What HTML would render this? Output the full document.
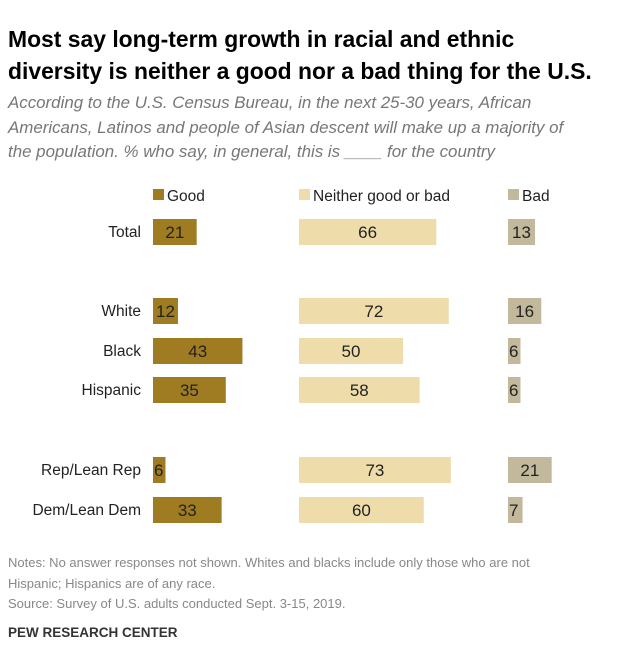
<!DOCTYPE html>
<html><head><meta charset="utf-8"><style>
body{margin:0;background:#fff;font-family:"Liberation Sans",sans-serif;}
#wrap{position:relative;width:639px;height:671px;overflow:hidden;}
.t{position:absolute;white-space:nowrap;}
</style></head><body>
<div id="wrap">
<div class="t" style="left:8px;top:23px;font-size:22.9px;font-weight:bold;line-height:32px;color:#000;">Most say long-term growth in racial and ethnic<br>diversity is neither a good nor a bad thing for the U.S.</div>
<div class="t" style="left:8px;top:91px;font-size:16.9px;font-style:italic;line-height:24.5px;color:#777;">According to the U.S. Census Bureau, in the next 25-30 years, African<br>Americans, Latinos and people of Asian descent will make up a majority of<br>the population. % who say, in general, this is ____ for the country</div>
<svg id="chart" width="639" height="671" style="position:absolute;left:0;top:0"></svg>
<div class="t" style="left:8px;top:553px;font-size:13px;line-height:20.5px;color:#888;">Notes: No answer responses not shown. Whites and blacks include only those who are not<br>Hispanic; Hispanics are of any race.<br>Source: Survey of U.S. adults conducted Sept. 3-15, 2019.</div>
<div class="t" style="left:8px;top:625px;font-size:13.5px;font-weight:bold;color:#333;">PEW RESEARCH CENTER</div>
</div>
<script>
const categories=["Total","White","Black","Hispanic","Rep/Lean Rep","Dem/Lean Dem"];
const goodValues=[21,12,43,35,6,33];
const neitherValues=[66,72,50,58,73,60];
const badValues=[13,16,6,6,21,7];
const seriesNames=["Good","Neither good or bad","Bad"];
const rowY=[232,311,351,390,470,510];
const NS="http://www.w3.org/2000/svg";
const svg=document.getElementById('chart');
const colors=["#9f7c22","#eeddaa","#c2b89b"];
const starts=[153,299,508];
const scale=2.08;
const x=(s,v)=>starts[s]+v*scale;
function mk(tag,attrs){const e=document.createElementNS(NS,tag);for(const k in attrs)e.setAttribute(k,attrs[k]);svg.appendChild(e);return e;}
seriesNames.forEach((n,s)=>{
  const r=mk('rect',{x:starts[s],y:189,width:11,height:11,fill:colors[s]});
  
  
  const t=mk('text',{x:starts[s]+14,y:201,'font-size':15.5,fill:'#222','font-family':'Liberation Sans, sans-serif'});
  t.textContent=n;
  
  
});
const all=[goodValues,neitherValues,badValues];
categories.forEach((c,i)=>{
  const cy=rowY[i];
  const lb=mk('text',{x:141,y:cy+5,'font-size':15.5,fill:'#222','text-anchor':'end','font-family':'Liberation Sans, sans-serif'});
  lb.textContent=c;
  
  
  all.forEach((vals,s)=>{
    const v=vals[i];const w=x(s,v)-starts[s];
    const r=mk('rect',{x:starts[s],y:cy-13,width:w,height:26,fill:colors[s]});
    
    
    const small=w<22;
    const t=mk('text',{x:small?starts[s]+1:starts[s]+w/2,y:cy+6,'font-size':17,fill:'#222','text-anchor':small?'start':'middle','font-family':'Liberation Sans, sans-serif'});
    t.textContent=v;
    
    
  });
});
</script>
</body></html>
